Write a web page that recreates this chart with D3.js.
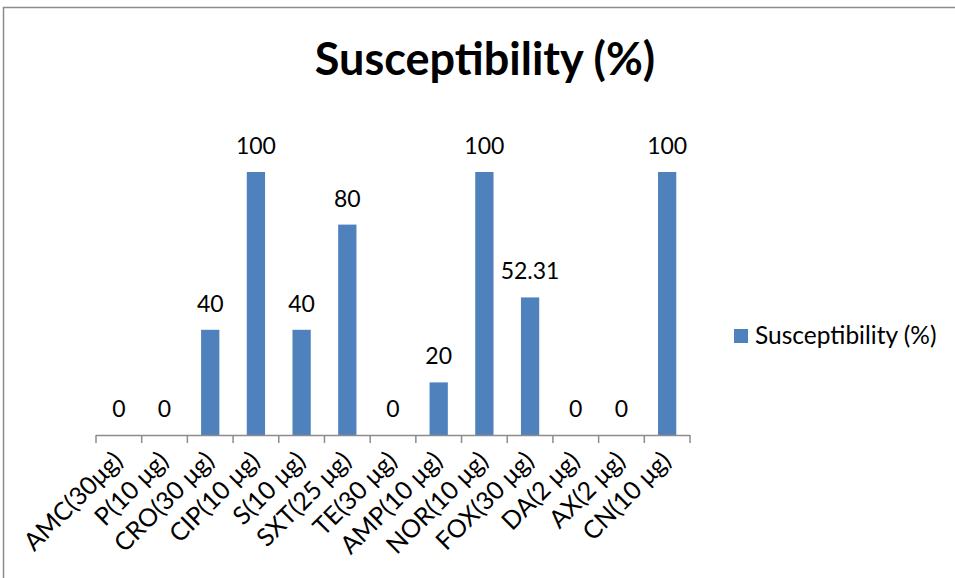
<!DOCTYPE html>
<html>
<head>
<meta charset="utf-8">
<script src="https://cdn.jsdelivr.net/npm/d3@7"></script>
<style>
  html, body { margin: 0; padding: 0; background: #fff; }
  svg { display: block; }
  text { font-family: Lato, "Open Sans", sans-serif; fill: #000; }
</style>
</head>
<body>
<svg id="chart" width="955" height="578"></svg>
<script>
// Antibiotic discs and the share of isolates susceptible to each
const categories = ["AMC(30μg)", "P(10 μg)", "CRO(30 μg)", "CIP(10 μg)", "S(10 μg)", "SXT(25 μg)",
  "TE(30 μg)", "AMP(10 μg)", "NOR(10 μg)", "FOX(30 μg)", "DA(2 μg)", "AX(2 μg)", "CN(10 μg)"];
const susceptibility = [0, 0, 40, 100, 40, 80, 0, 20, 100, 52.31, 0, 0, 100];
const valueLabels = ["0", "0", "40", "100", "40", "80", "0", "20", "100", "52.31", "0", "0", "100"];
const seriesName = "Susceptibility (%)";
const chartTitle = "Susceptibility (%)";

const barColor = "#4F81BD";
const axisColor = "#8c8c8c";
const svg = d3.select("#chart");

// outer chart frame (top and left edges visible)
svg.append("path")
  .attr("d", "M3.5,578 V7.5 H955")
  .attr("fill", "none")
  .attr("stroke", axisColor)
  .attr("stroke-width", 1.5);

const plot = { left: 96, right: 690, top: 172, bottom: 435 };

const x = d3.scaleBand()
  .domain(categories)
  .range([plot.left, plot.right])
  .paddingInner(0.6)
  .paddingOuter(0.3);

const y = d3.scaleLinear()
  .domain([0, 100])
  .range([plot.bottom, plot.top]);

// bars
svg.append("g").selectAll("rect")
  .data(categories)
  .join("rect")
  .attr("x", d => x(d))
  .attr("width", x.bandwidth())
  .attr("y", (d, i) => y(susceptibility[i]))
  .attr("height", (d, i) => y(0) - y(susceptibility[i]))
  .attr("fill", barColor);

// value labels above each bar
svg.append("g").selectAll("text")
  .data(categories)
  .join("text")
  .attr("x", d => x(d) + x.bandwidth() / 2)
  .attr("y", (d, i) => y(susceptibility[i]) - 18)
  .attr("text-anchor", "middle")
  .attr("font-size", 23)
  .text((d, i) => valueLabels[i]);

// category axis with ticks at band boundaries
const axisG = svg.append("g");
axisG.append("line")
  .attr("x1", plot.left).attr("x2", plot.right)
  .attr("y1", plot.bottom + 0.5).attr("y2", plot.bottom + 0.5)
  .attr("stroke", axisColor).attr("stroke-width", 1.5);

const boundaries = d3.range(categories.length + 1)
  .map(i => plot.left + i * (plot.right - plot.left) / categories.length);
axisG.selectAll("line.tick")
  .data(boundaries)
  .join("line")
  .attr("class", "tick")
  .attr("x1", d => d).attr("x2", d => d)
  .attr("y1", plot.bottom).attr("y2", plot.bottom + 8)
  .attr("stroke", axisColor).attr("stroke-width", 1.5);

axisG.selectAll("text")
  .data(categories)
  .join("text")
  .attr("transform", d => `translate(${x(d) + x.bandwidth() / 2 - 7},${plot.bottom + 15}) rotate(-45)`)
  .attr("text-anchor", "end")
  .attr("dy", "0.7em")
  .attr("font-size", 25)
  .text(d => d);

// title
svg.append("text")
  .attr("x", 485)
  .attr("y", 75)
  .attr("text-anchor", "middle")
  .attr("font-size", 45)
  .attr("font-weight", "bold")
  .text(chartTitle);

// legend
const legend = svg.append("g").attr("transform", "translate(734,329)");
legend.append("rect").attr("width", 14).attr("height", 14).attr("fill", barColor);
legend.append("text")
  .attr("x", 21).attr("y", 15)
  .attr("font-size", 24.5)
  .text(seriesName);
</script>
</body>
</html>
